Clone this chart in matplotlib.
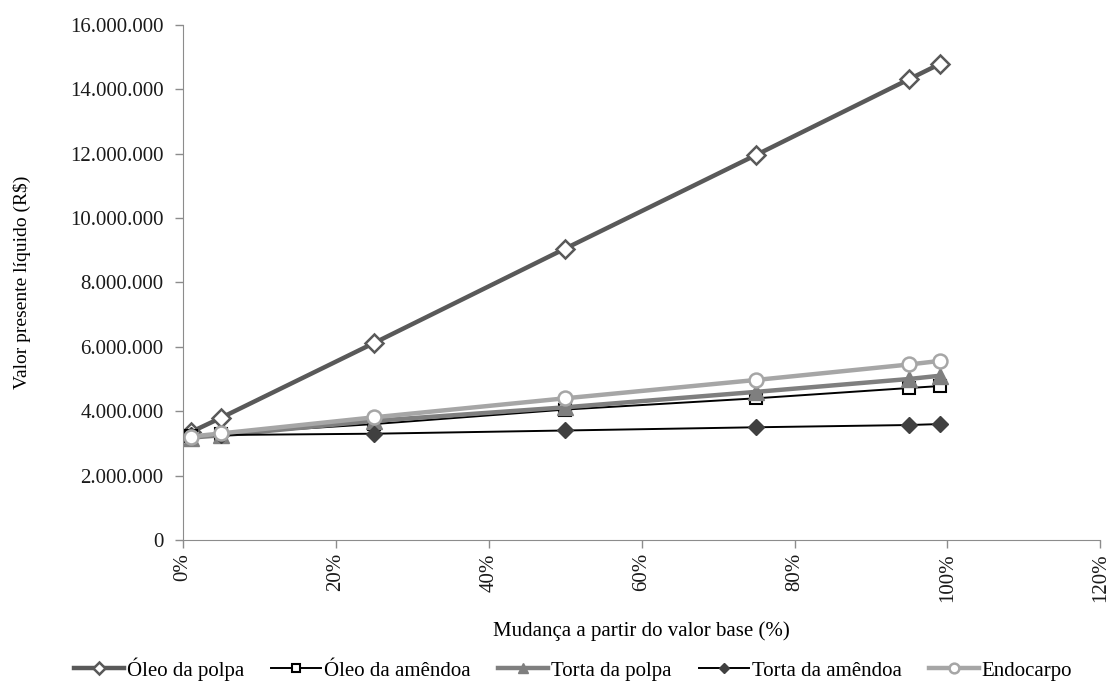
import matplotlib.pyplot as plt
from matplotlib.ticker import FuncFormatter, PercentFormatter

plt.rcParams['font.family'] = ['Liberation Serif', 'DejaVu Serif']

# variação a partir do valor base (fração)
mudanca = [0.01, 0.05, 0.25, 0.50, 0.75, 0.95, 0.99]

oleo_polpa = [3.35e6, 3.80e6, 6.12e6, 9.05e6, 11.96e6, 14.31e6, 14.78e6]
oleo_amendoa = [3.22e6, 3.30e6, 3.60e6, 4.05e6, 4.40e6, 4.72e6, 4.78e6]
torta_polpa = [3.18e6, 3.25e6, 3.70e6, 4.12e6, 4.60e6, 5.00e6, 5.10e6]
torta_amendoa = [3.25e6, 3.26e6, 3.30e6, 3.40e6, 3.50e6, 3.57e6, 3.60e6]
endocarpo = [3.21e6, 3.31e6, 3.81e6, 4.40e6, 4.97e6, 5.45e6, 5.56e6]

fig = plt.figure(figsize=(11.17, 6.87), dpi=100)
ax = fig.add_axes([0.164, 0.214, 0.821, 0.75])

ax.plot(mudanca, oleo_polpa, color='#595959', lw=3.2, marker='D', ms=9,
        mfc='white', mec='#595959', mew=1.8, label='Óleo da polpa')
ax.plot(mudanca, oleo_amendoa, color='black', lw=1.4, marker='s', ms=8,
        mfc='white', mec='black', mew=1.5, label='Óleo da amêndoa')
ax.plot(mudanca, torta_polpa, color='#7f7f7f', lw=3.2, marker='^', ms=11,
        mfc='#7f7f7f', mec='#7f7f7f', label='Torta da polpa')
ax.plot(mudanca, torta_amendoa, color='black', lw=1.4, marker='D', ms=8,
        mfc='#404040', mec='#404040', label='Torta da amêndoa')
ax.plot(mudanca, endocarpo, color='#a6a6a6', lw=3.2, marker='o', ms=10,
        mfc='white', mec='#a6a6a6', mew=1.8, label='Endocarpo')

ax.set_xlim(0, 1.2)
ax.set_ylim(0, 16e6)
ax.set_xticks([0, 0.2, 0.4, 0.6, 0.8, 1.0, 1.2])
ax.set_yticks(range(0, 16000001, 2000000))
ax.xaxis.set_major_formatter(PercentFormatter(1.0, decimals=0))
ax.yaxis.set_major_formatter(FuncFormatter(lambda v, p: f"{int(v):,}".replace(',', '.')))

for lab in ax.get_xticklabels():
    lab.set_rotation(90)

ax.spines['top'].set_visible(False)
ax.spines['right'].set_visible(False)
ax.spines['left'].set_color('#8c8c8c')
ax.spines['bottom'].set_color('#8c8c8c')
ax.tick_params(axis='both', colors='#8c8c8c', labelcolor='#1a1a1a',
               labelsize=15, length=6, width=1)
ax.tick_params(axis='y', pad=8)

ax.set_xlabel("Mudança a partir do valor base (%)", fontsize=15, labelpad=14)
ax.set_ylabel("Valor presente líquido (R$)", fontsize=14, labelpad=28)

ax.legend(loc='center', bbox_to_anchor=(0.425, -0.25), ncol=5,
          frameon=False, fontsize=15, handlelength=2.4, columnspacing=1.3,
          handletextpad=0.15, markerscale=0.7)

plt.savefig('out.png', dpi=100)
plt.close()
